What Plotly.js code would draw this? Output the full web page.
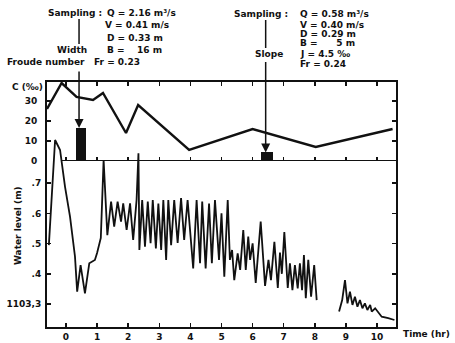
<!DOCTYPE html>
<html><head><meta charset="utf-8">
<script src="https://cdn.plot.ly/plotly-3.0.1.min.js"></script>
<style>html,body{margin:0;padding:0;background:#fff}#chart{width:455px;height:343px}</style>
</head><body><div id="chart"></div>
<script>
// ---- data ----
var hourTicks = [0,1,2,3,4,5,6,7,8,9,10];
var wlTickVals = [1103.3,1103.4,1103.5,1103.6,1103.7];
var wlTickText = ['1103,3','.4','.5','.6','.7'];
var cTickVals = [0,10,20,30];

var cTime = [-0.61,-0.14,0.34,0.87,1.19,1.93,2.32,3.96,6.0,8.03,10.5];
var cVal  = [26,39,32,30.5,34,14,28,5.5,16,7,16];

var barTime  = [0.48,6.46];
var barC     = [16.5,4.3];
var barWidth = [0.32,0.40];
var arrowTime = [0.42,6.42];

var wlTime = [-0.55,-0.35,-0.19,-0.03,0.13,0.29,0.36,0.47,0.61,0.75,0.93,1.00,1.12,1.21,1.33,
 1.45,1.55,1.66,1.77,1.84,1.95,2.06,2.16,2.27,2.33,2.36,2.45,2.54,2.63,2.72,2.79,2.89,2.97,3.06,3.13,
 3.22,3.29,3.38,3.48,3.59,3.70,3.80,3.91,4.09,4.20,4.31,4.38,4.49,4.60,4.69,4.79,4.92,5.00,5.09,5.20,
 5.27,5.34,5.41,5.52,5.60,5.70,5.78,5.86,5.92,6.00,6.10,6.26,6.40,6.51,6.59,6.70,6.81,6.88,6.94,7.02,
 7.13,7.20,7.28,7.36,7.45,7.52,7.59,7.65,7.71,7.79,7.88,7.98,8.06,null,
 8.78,8.88,8.97,9.05,9.13,9.21,9.29,9.37,9.45,9.53,9.61,9.69,9.78,9.83,9.94,10.15,10.36,10.56];
var wlLevel = [1103.495,1103.843,1103.810,1103.688,1103.589,1103.457,1103.341,1103.429,1103.335,1103.435,1103.446,1103.469,1103.519,1103.777,1103.528,
 1103.639,1103.556,1103.639,1103.573,1103.633,1103.545,1103.633,1103.512,1103.644,1103.799,1103.479,1103.644,1103.490,1103.639,1103.501,1103.644,1103.484,1103.633,1103.479,1103.644,
 1103.446,1103.644,1103.495,1103.644,1103.502,1103.651,1103.512,1103.644,1103.418,1103.644,1103.435,1103.639,1103.418,1103.633,1103.435,1103.644,1103.446,1103.600,1103.390,1103.644,
 1103.446,1103.479,1103.379,1103.468,1103.413,1103.545,1103.413,1103.523,1103.446,1103.501,1103.370,1103.573,1103.360,1103.446,1103.379,1103.506,1103.353,1103.470,1103.400,1103.538,
 1103.353,1103.435,1103.346,1103.429,1103.352,1103.435,1103.346,1103.462,1103.319,1103.446,1103.324,1103.429,1103.313,null,
 1103.275,1103.313,1103.379,1103.302,1103.341,1103.297,1103.324,1103.291,1103.313,1103.286,1103.302,1103.280,1103.297,1103.275,1103.286,1103.258,1103.253,1103.247];

// ---- layout helpers (pixel -> paper) ----
var L=47, R=396, T=82, B=327;
function X(px){return (px-L)/(R-L);}
function Y(py){return (B-py)/(B-T);}
var FONT = 'DejaVu Sans';
var xRange = [-0.61,10.61];
var d2 = X(62);
var x2Start = xRange[0] + d2*(xRange[1]-xRange[0]);

var traces = [
 {x: wlTime, y: wlLevel, xaxis:'x', yaxis:'y', type:'scatter', mode:'lines', connectgaps:false,
  line:{color:'#111', width:1.8}, hoverinfo:'skip'},
 {x: cTime, y: cVal, xaxis:'x', yaxis:'y2', type:'scatter', mode:'lines',
  line:{color:'#111', width:2.4}, hoverinfo:'skip'},
 {x: barTime, y: barC, width: barWidth, xaxis:'x', yaxis:'y2', type:'bar',
  marker:{color:'#111', line:{width:0}}, hoverinfo:'skip'},
 {x: [], y: [], xaxis:'x2', yaxis:'y2', type:'scatter', mode:'lines', hoverinfo:'skip'}
];

function txt(t, px, py, anchor, size){
  return {text:t, xref:'paper', yref:'paper', x:X(px), y:Y(py), xanchor:anchor||'left', yanchor:'middle',
    showarrow:false, font:{family:FONT, size:size||9, color:'#111', weight:'bold'}};
}
var ann = [
 txt('Sampling :',104,13,'right'), txt('Q = 2.16 m³/s',105,13),
 txt('V = 0.41 m/s',103,25), txt('D = 0.33 m',105,38),
 txt('Width',89,50,'right'), txt('B =    16 m',105,50),
 txt('Froude number',87,62,'right'), txt('Fr = 0.23',92,62),
 txt('Sampling :',232,14), txt('Q = 0.58 m³/s',298,14),
 txt('V = 0.40 m/s',298,25), txt('D = 0.29 m',298,34),
 txt('B =      5 m',298,43), txt('Slope',253,54), txt('J = 4.5 ‰',298,54),
 txt('Fr = 0.24',298,64),
 txt('C (‰)',10,87),
 txt('Time (hr)',401,334),
 {text:'Water level (m)', xref:'paper', yref:'paper', x:X(18), y:Y(226), textangle:-90,
  xanchor:'center', yanchor:'middle', showarrow:false, font:{family:FONT, size:9, color:'#111', weight:'bold'}},
 {text:'', xref:'x', yref:'y2', x:arrowTime[0], y:barC[0], ax:0, ay:-58, showarrow:true,
  arrowhead:2, arrowsize:1.2, arrowwidth:1.5, arrowcolor:'#111', standoff:0},
 {text:'', xref:'x', yref:'y2', x:arrowTime[1], y:barC[1], ax:0, ay:-92, showarrow:true,
  arrowhead:2, arrowsize:1.2, arrowwidth:1.5, arrowcolor:'#111', standoff:0}
];
var shapes = [
 {type:'line', xref:'x', yref:'paper', x0:arrowTime[0], x1:arrowTime[0], y0:Y(19), y1:Y(44), line:{color:'#111', width:1.5}},
 {type:'line', xref:'x', yref:'paper', x0:arrowTime[1], x1:arrowTime[1], y0:Y(20), y1:Y(48), line:{color:'#111', width:1.5}},
 {type:'line', xref:'x', yref:'y2', x0:x2Start, x1:xRange[1], y0:0, y1:0, line:{color:'#111', width:2}}
];

var tickFont = {family:FONT, size:9, color:'#111', weight:'bold'};
var layout = {
 width:455, height:343, margin:{l:L, r:455-R, t:T, b:343-B, pad:0},
 paper_bgcolor:'#fff', plot_bgcolor:'rgba(0,0,0,0)', showlegend:false,
 xaxis:{domain:[0,1], range:xRange, anchor:'y', tickvals:hourTicks, ticks:'inside', ticklen:4, tickwidth:1.5,
   tickcolor:'#111', showline:true, linewidth:2, linecolor:'#111', mirror:'ticks', showgrid:false, zeroline:false,
   tickfont:tickFont, ticklabelstandoff:0},
 yaxis:{domain:[0,1], range:[1103.3-23/302, 1103.3+222/302], anchor:'x', tickvals:wlTickVals, ticktext:wlTickText,
   ticks:'inside', ticklen:4, tickwidth:1.5, tickcolor:'#111', showline:true, linewidth:2, linecolor:'#111',
   mirror:'ticks', showgrid:false, zeroline:false, tickfont:tickFont, ticklabelstandoff:2},
 xaxis2:{domain:[d2,1], range:[x2Start, xRange[1]], anchor:'y2', tickvals:hourTicks, ticks:'inside', ticklen:4,
   tickwidth:1.5, tickcolor:'#111', showline:false, showticklabels:false,
   showgrid:false, zeroline:false},
 yaxis2:{domain:[Y(161),1], range:[0,39.5], anchor:'x', tickvals:cTickVals, ticks:'inside', ticklen:4,
   tickwidth:1.5, tickcolor:'#111', showline:true, linewidth:2, linecolor:'#111', mirror:'ticks',
   showgrid:false, zeroline:false, tickfont:tickFont, ticklabelstandoff:6},
 bargap:0, annotations:ann, shapes:shapes
};
Plotly.newPlot('chart', traces, layout, {staticPlot:true, displayModeBar:false});
</script></body></html>
